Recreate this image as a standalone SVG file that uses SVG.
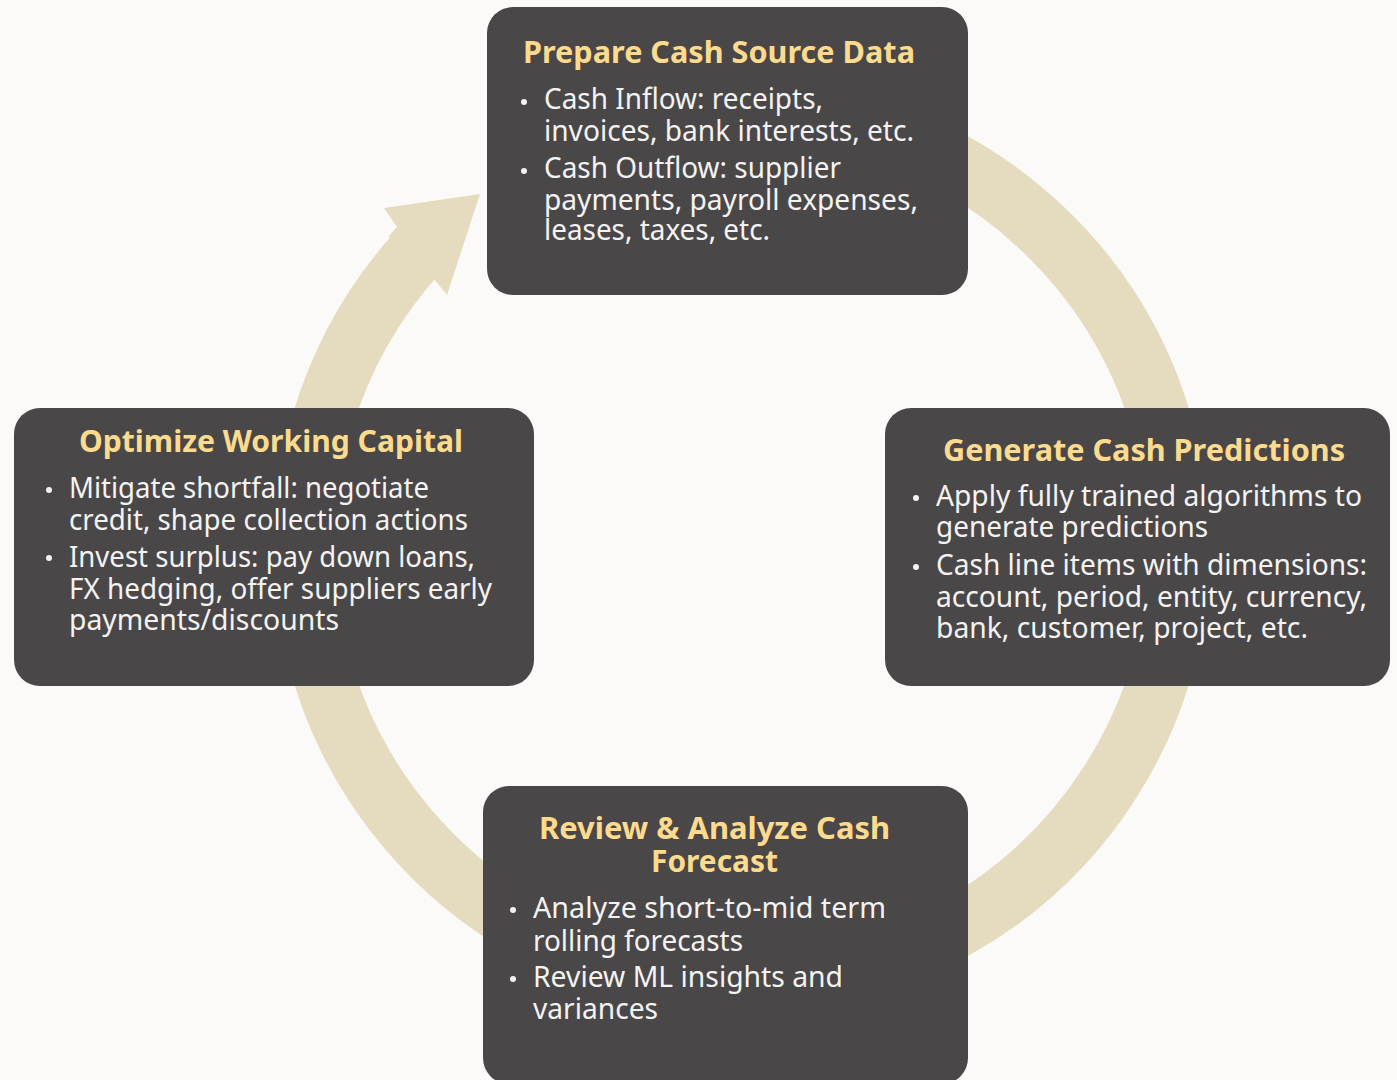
<svg xmlns="http://www.w3.org/2000/svg" width="1397" height="1080" viewBox="0 0 1397 1080">
<style>
.box{fill:#4A4748;}
.ttl{font-family:"Noto Sans","Open Sans",sans-serif;font-weight:bold;font-size:31px;fill:#FCDB8E;}
.txt{font-family:"Noto Sans","Open Sans",sans-serif;font-size:29px;fill:#F4F3F2;}
.bul{fill:#F4F3F2;}
.ring{fill:none;stroke:#E5DBBF;stroke-width:61;}
</style>
<rect x="0" y="0" width="1397" height="1080" fill="#FBFAF8"/>
<g id="connectors">
<path class="ring" d="M 662.0 116.1 A 437.5 437.5 0 1 1 417.1 253.0"/>
<polygon fill="#E5DBBF" points="388.5,236.5 397,227 384,208 480,194 447,295 433,278 432,276"/>
</g>
<g id="node-prepare">
<rect class="box" x="487" y="7" width="481" height="288" rx="26"/>
<text class="ttl" x="523" y="63" textLength="392" lengthAdjust="spacingAndGlyphs">Prepare Cash Source Data</text>
<circle class="bul" cx="524" cy="102" r="3"/>
<circle class="bul" cx="524" cy="171" r="3"/>
<text class="txt" x="544" y="109" textLength="279" lengthAdjust="spacingAndGlyphs">Cash Inflow: receipts,</text>
<text class="txt" x="544" y="141" textLength="370" lengthAdjust="spacingAndGlyphs">invoices, bank interests, etc.</text>
<text class="txt" x="544" y="178" textLength="297" lengthAdjust="spacingAndGlyphs">Cash Outflow: supplier</text>
<text class="txt" x="544" y="210" textLength="374" lengthAdjust="spacingAndGlyphs">payments, payroll expenses,</text>
<text class="txt" x="544" y="240" textLength="226" lengthAdjust="spacingAndGlyphs">leases, taxes, etc.</text>
</g>
<g id="node-generate">
<rect class="box" x="885" y="408" width="505" height="278" rx="26"/>
<text class="ttl" x="943" y="461" textLength="402" lengthAdjust="spacingAndGlyphs">Generate Cash Predictions</text>
<circle class="bul" cx="916" cy="498" r="3"/>
<circle class="bul" cx="916" cy="567" r="3"/>
<text class="txt" x="936" y="506" textLength="426" lengthAdjust="spacingAndGlyphs">Apply fully trained algorithms to</text>
<text class="txt" x="936" y="537" textLength="272" lengthAdjust="spacingAndGlyphs">generate predictions</text>
<text class="txt" x="936" y="575" textLength="431" lengthAdjust="spacingAndGlyphs">Cash line items with dimensions:</text>
<text class="txt" x="936" y="607" textLength="431" lengthAdjust="spacingAndGlyphs">account, period, entity, currency,</text>
<text class="txt" x="936" y="638" textLength="372" lengthAdjust="spacingAndGlyphs">bank, customer, project, etc.</text>
</g>
<g id="node-review">
<rect class="box" x="483" y="786" width="485" height="298" rx="26"/>
<text class="ttl" x="539" y="839" textLength="351" lengthAdjust="spacingAndGlyphs">Review &amp; Analyze Cash</text>
<text class="ttl" x="651" y="872" textLength="127" lengthAdjust="spacingAndGlyphs">Forecast</text>
<circle class="bul" cx="513" cy="910" r="3"/>
<circle class="bul" cx="513" cy="979" r="3"/>
<text class="txt" x="533" y="918" textLength="353" lengthAdjust="spacingAndGlyphs">Analyze short-to-mid term</text>
<text class="txt" x="533" y="951" textLength="210" lengthAdjust="spacingAndGlyphs">rolling forecasts</text>
<text class="txt" x="533" y="987" textLength="310" lengthAdjust="spacingAndGlyphs">Review ML insights and</text>
<text class="txt" x="533" y="1019" textLength="125" lengthAdjust="spacingAndGlyphs">variances</text>
</g>
<g id="node-optimize">
<rect class="box" x="14" y="408" width="520" height="278" rx="26"/>
<text class="ttl" x="79" y="452" textLength="384" lengthAdjust="spacingAndGlyphs">Optimize Working Capital</text>
<circle class="bul" cx="49" cy="490" r="3"/>
<circle class="bul" cx="49" cy="558" r="3"/>
<text class="txt" x="69" y="498" textLength="360" lengthAdjust="spacingAndGlyphs">Mitigate shortfall: negotiate</text>
<text class="txt" x="69" y="530" textLength="399" lengthAdjust="spacingAndGlyphs">credit, shape collection actions</text>
<text class="txt" x="69" y="567" textLength="406" lengthAdjust="spacingAndGlyphs">Invest surplus: pay down loans,</text>
<text class="txt" x="69" y="599" textLength="423" lengthAdjust="spacingAndGlyphs">FX hedging, offer suppliers early</text>
<text class="txt" x="69" y="630" textLength="270" lengthAdjust="spacingAndGlyphs">payments/discounts</text>
</g>
</svg>
